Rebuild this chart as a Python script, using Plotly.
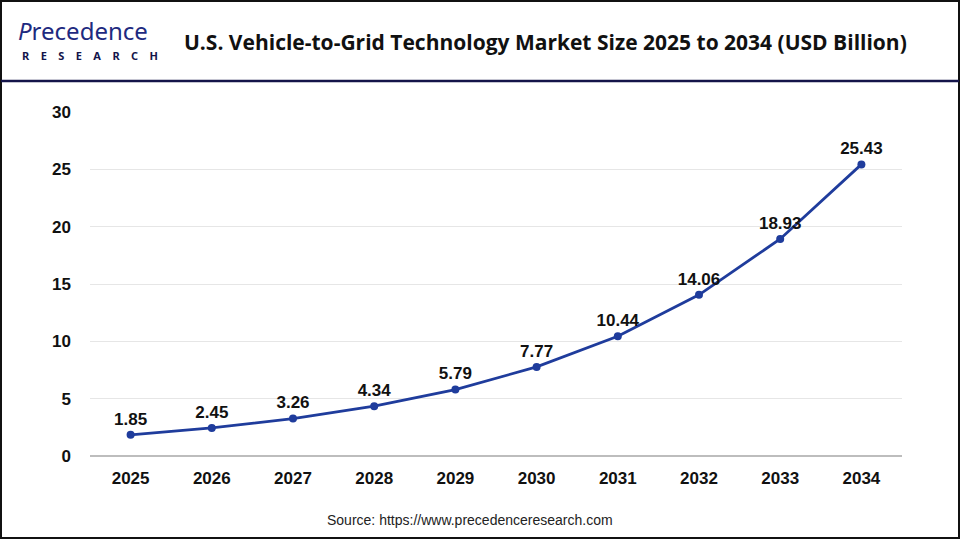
import plotly.graph_objects as go

years = ["2025", "2026", "2027", "2028", "2029", "2030", "2031", "2032", "2033", "2034"]
values = [1.85, 2.45, 3.26, 4.34, 5.79, 7.77, 10.44, 14.06, 18.93, 25.43]
y_ticks = [0, 5, 10, 15, 20, 25, 30]

W, H = 960, 540
ML, MR, MT, MB = 90, 58, 112, 84

def px(x):
    return (x - ML) / (W - ML - MR)

def py(y):
    return (H - MB - y) / (H - MT - MB)

fig = go.Figure()
fig.add_trace(go.Scatter(
    x=years, y=values, mode="lines+markers+text",
    line=dict(color="#1f3c9c", width=2.8),
    marker=dict(color="#1f3c9c", size=8),
    text=[f"{v:.2f}" for v in values],
    textposition="top center",
    textfont=dict(family="Liberation Sans, Arial", size=17, color="#111111", weight="bold"),
    cliponaxis=False,
    hoverinfo="skip",
))

fig.update_layout(
    width=W, height=H,
    margin=dict(l=ML, r=MR, t=MT, b=MB),
    paper_bgcolor="white", plot_bgcolor="white",
    showlegend=False,
    xaxis=dict(
        type="category", range=[-0.5, 9.5], showgrid=False, zeroline=False,
        showline=False, ticks="",
        tickfont=dict(family="Liberation Sans, Arial", size=17, color="#111111", weight="bold"),
        ticklabelstandoff=10,
    ),
    yaxis=dict(
        range=[0, 30], tickvals=y_ticks, showgrid=True, gridcolor="#e6e6e6", gridwidth=1,
        zeroline=True, zerolinecolor="#bdbdbd", zerolinewidth=2,
        showline=False, ticks="",
        tickfont=dict(family="Liberation Sans, Arial", size=17, color="#111111", weight="bold"),
        ticklabelstandoff=18,
    ),
    shapes=[
        dict(type="rect", xref="paper", yref="paper",
             x0=px(1), x1=px(959), y0=py(1), y1=py(538),
             line=dict(color="#111111", width=2), fillcolor="rgba(0,0,0,0)", layer="above"),
        dict(type="line", xref="paper", yref="paper",
             x0=px(1), x1=px(959), y0=py(81), y1=py(81),
             line=dict(color="#14144a", width=2.5)),
    ],
    annotations=[
        dict(text="U.S. Vehicle-to-Grid Technology Market Size 2025 to 2034 (USD Billion)",
             xref="paper", yref="paper", x=px(545), y=py(42), xanchor="center", yanchor="middle",
             showarrow=False,
             font=dict(family="Open Sans, Noto Sans", size=21, color="#111111", weight="bold")),
        dict(text="<i>P</i>recedence",
             xref="paper", yref="paper", x=px(16), y=py(30), xanchor="left", yanchor="middle",
             showarrow=False,
             font=dict(family="Noto Sans, Open Sans", size=24, color="#1e2a80")),
        dict(text="R    E    S    E    A    R    C    H",
             xref="paper", yref="paper", x=px(20), y=py(56), xanchor="left", yanchor="middle",
             showarrow=False,
             font=dict(family="Noto Sans, Open Sans", size=11, color="#14144a", weight="bold")),
        dict(text="Source: https://www.precedenceresearch.com",
             xref="paper", yref="paper", x=px(470), y=py(520), xanchor="center", yanchor="middle",
             showarrow=False,
             font=dict(family="Liberation Sans, Arial", size=14, color="#222222")),
    ],
)

fig.write_html("out.html", config={"displayModeBar": False},
               post_script="document.body.style.margin='0';document.body.style.padding='0';")
